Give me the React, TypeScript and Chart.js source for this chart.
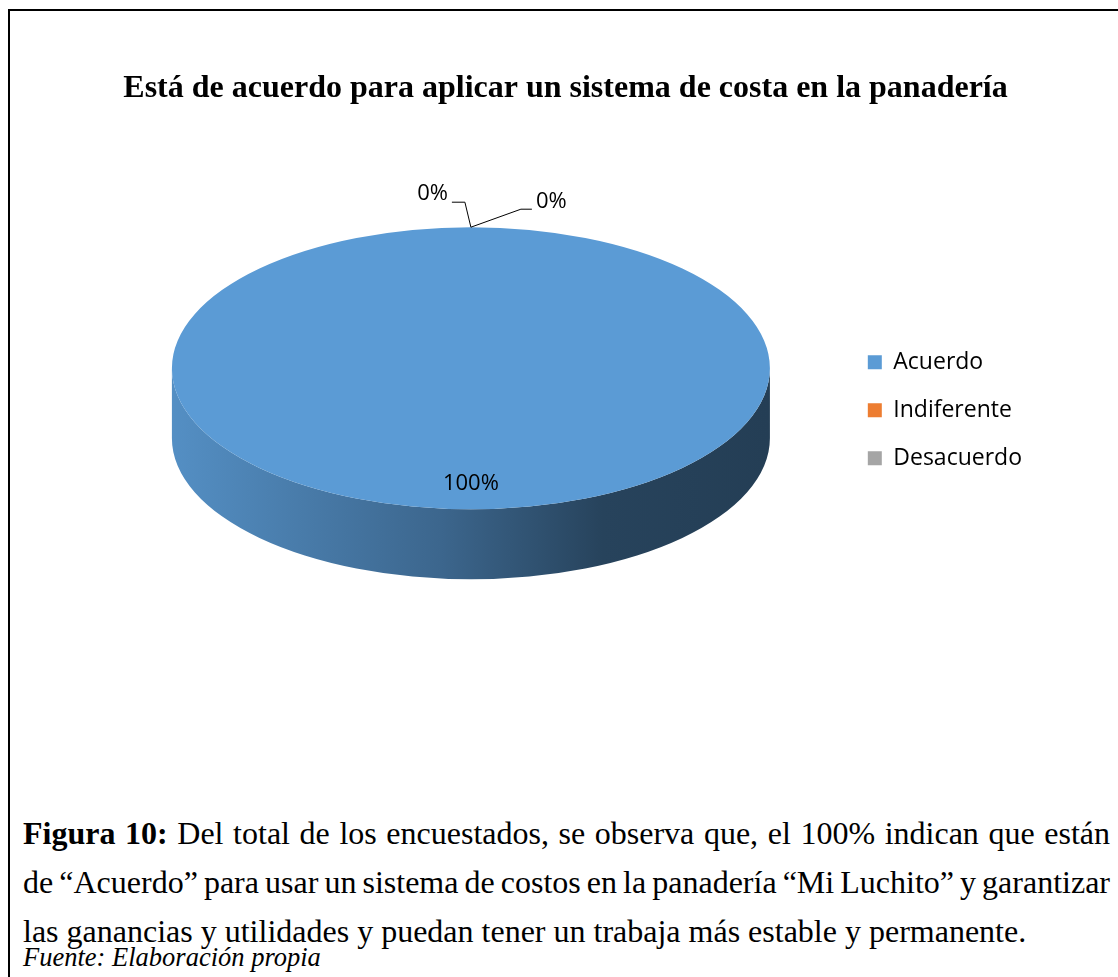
import React, { useEffect, useLayoutEffect, useRef } from 'react';
import { Chart, registerables } from 'chart.js';

Chart.register(...registerables);

const chartTitle = 'Está de acuerdo para aplicar un sistema de costa en la panadería';
const categories = ['Acuerdo', 'Indiferente', 'Desacuerdo'];
const values = [100, 0, 0];
const colors = ['#5b9bd5', '#ed7d31', '#a5a5a5'];

const TILT = 0.4716;
const DEPTH = 70;

function pct(v: number, total: number) {
  return Math.round((v / total) * 100) + '%';
}

function shade(hex: string, f: number) {
  const n = parseInt(hex.slice(1), 16);
  const r = Math.round(((n >> 16) & 255) * f);
  const g = Math.round(((n >> 8) & 255) * f);
  const b = Math.round((n & 255) * f);
  return `rgb(${r},${g},${b})`;
}

const pie3d = {
  id: 'pie3d',
  beforeDatasetsDraw(chart: any) {
    const meta = chart.getDatasetMeta(0);
    const ctx = chart.ctx as CanvasRenderingContext2D;
    const { x, y, outerRadius: r } = meta.data[0].getProps(['x', 'y', 'outerRadius'], true);
    const topY = y - DEPTH / 2;
    meta.data.forEach((arc: any, i: number) => {
      const p = arc.getProps(['startAngle', 'endAngle'], true);
      const a = Math.max(p.startAngle, 0);
      const b = Math.min(p.endAngle, Math.PI);
      if (b <= a) return;
      const base = colors[i];
      const g = ctx.createLinearGradient(x - r, 0, x + r, 0);
      g.addColorStop(0, shade(base, 0.92));
      g.addColorStop(0.45, shade(base, 0.66));
      g.addColorStop(0.72, shade(base, 0.43));
      g.addColorStop(1, shade(base, 0.4));
      ctx.save();
      ctx.beginPath();
      ctx.ellipse(x, topY, r, r * TILT, 0, a, b, false);
      ctx.ellipse(x, topY + DEPTH, r, r * TILT, 0, b, a, true);
      ctx.closePath();
      ctx.fillStyle = g;
      ctx.fill();
      ctx.restore();
    });
    ctx.save();
    ctx.translate(x, topY);
    ctx.scale(1, TILT);
    ctx.translate(-x, -y);
  },
  afterDatasetsDraw(chart: any) {
    const ctx = chart.ctx as CanvasRenderingContext2D;
    ctx.restore();
    const meta = chart.getDatasetMeta(0);
    const { x, y, outerRadius: r } = meta.data[0].getProps(['x', 'y', 'outerRadius'], true);
    const topY = y - DEPTH / 2;
    const total = values.reduce((s, v) => s + v, 0);
    ctx.save();
    ctx.font = '22px "Open Sans"';
    ctx.fillStyle = '#000';
    ctx.strokeStyle = '#000';
    ctx.lineWidth = 1;
    ctx.textBaseline = 'middle';
    let zeroCount = 0;
    meta.data.forEach((arc: any, i: number) => {
      const p = arc.getProps(['startAngle', 'endAngle'], true);
      const mid = (p.startAngle + p.endAngle) / 2;
      const text = pct(values[i], total);
      if (values[i] > 0) {
        const f = 0.82;
        ctx.textAlign = 'center';
        ctx.fillText(text, x + Math.cos(mid) * r * f, topY + Math.sin(mid) * r * f * TILT);
      } else {
        const ax = x + Math.cos(mid) * r;
        const ay = topY + Math.sin(mid) * r * TILT;
        const left = zeroCount % 2 === 0;
        zeroCount++;
        ctx.beginPath();
        ctx.moveTo(ax, ay);
        if (left) {
          ctx.lineTo(ax - 6, ay - 25);
          ctx.lineTo(ax - 19, ay - 25);
          ctx.stroke();
          ctx.textAlign = 'right';
          ctx.fillText(text, ax - 23, ay - 33);
        } else {
          ctx.lineTo(ax + 50, ay - 18);
          ctx.lineTo(ax + 61, ay - 18);
          ctx.stroke();
          ctx.textAlign = 'left';
          ctx.fillText(text, ax + 65, ay - 25);
        }
      }
    });
    ctx.restore();
  },
};

function PieChart() {
  const ref = useRef<HTMLCanvasElement>(null);
  useEffect(() => {
    if (!ref.current) return;
    const chart = new Chart(ref.current, {
      type: 'pie',
      data: {
        labels: categories,
        datasets: [
          {
            data: values,
            backgroundColor: colors,
            borderWidth: 0,
            clip: false as any,
          },
        ],
      },
      options: {
        responsive: false,
        animation: false,
        devicePixelRatio: 1,
        radius: 299,
        layout: { padding: { left: 89, right: 86, top: 0, bottom: 44 } },
        plugins: {
          title: {
            display: true,
            text: chartTitle,
            color: '#000',
            font: { family: '"Liberation Serif", "Times New Roman", serif', size: 32, weight: 'bold' },
            padding: { top: 59, bottom: 28 },
          },
          legend: {
            position: 'right',
            fullSize: false,
            title: { display: true, text: ' ', font: { size: 10 }, padding: 1 },
            labels: {
              boxWidth: 14,
              boxHeight: 14,
              padding: 25,
              color: '#000',
              font: { family: '"Open Sans"', size: 23 },
            },
          },
          tooltip: { enabled: false },
        },
      } as any,
      plugins: [pie3d],
    });
    return () => chart.destroy();
  }, []);
  return (
    <canvas
      ref={ref}
      width={1108}
      height={703}
      style={{ position: 'absolute', left: 10, top: 11, width: 1108, height: 703 }}
    />
  );
}

const TEXT_LEFT = 23;
const TEXT_WIDTH = 1087;

function CaptionLine({ top, justify, children }: { top: number; justify: boolean; children: React.ReactNode }) {
  const ref = useRef<HTMLSpanElement>(null);
  useLayoutEffect(() => {
    const el = ref.current;
    if (!el || !justify) return;
    el.style.wordSpacing = '0px';
    const w = el.getBoundingClientRect().width;
    const n = ((el.textContent || '').match(/ /g) || []).length;
    if (n > 0) el.style.wordSpacing = (TEXT_WIDTH - w) / n + 'px';
  }, [justify]);
  return (
    <div
      style={{
        position: 'absolute',
        left: TEXT_LEFT,
        top,
        lineHeight: '49px',
        fontFamily: '"Liberation Serif", "Times New Roman", serif',
        fontSize: 32,
        color: '#000',
        whiteSpace: 'nowrap',
      }}
    >
      <span ref={ref} style={{ whiteSpace: 'nowrap' }}>
        {children}
      </span>
    </div>
  );
}

export default function App() {
  return (
    <div
      style={{
        position: 'fixed',
        left: 0,
        top: 0,
        width: 1118,
        height: 977,
        overflow: 'hidden',
        background: '#fff',
      }}
    >
      <div
        style={{
          position: 'absolute',
          left: 8,
          top: 9,
          width: 1300,
          height: 1200,
          border: '2px solid #000',
          boxSizing: 'border-box',
        }}
      />
      <PieChart />
      <CaptionLine top={809} justify={true}>
        <b>Figura 10:</b> Del total de los encuestados, se observa que, el 100% indican que están
      </CaptionLine>
      <CaptionLine top={858} justify={true}>
        de “Acuerdo” para usar un sistema de costos en la panadería “Mi Luchito” y garantizar
      </CaptionLine>
      <CaptionLine top={907} justify={false}>
        las ganancias y utilidades y puedan tener un trabaja más estable y permanente.
      </CaptionLine>
      <div
        style={{
          position: 'absolute',
          left: TEXT_LEFT,
          top: 942,
          lineHeight: '30px',
          fontFamily: '"Liberation Serif", "Times New Roman", serif',
          fontSize: 26.5,
          fontStyle: 'italic',
          color: '#000',
          whiteSpace: 'nowrap',
        }}
      >
        Fuente: Elaboración propia
      </div>
    </div>
  );
}
